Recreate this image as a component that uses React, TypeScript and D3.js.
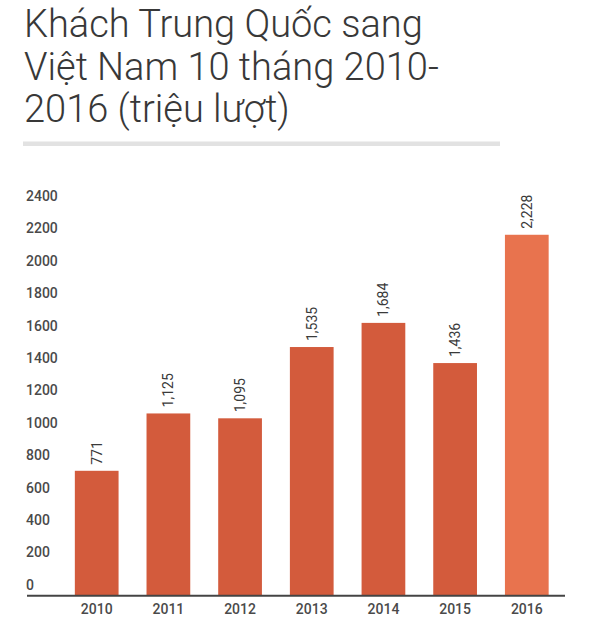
import React, { useEffect, useRef } from 'react';
import * as d3 from 'd3';

const titleLines = ['Khách Trung Quốc sang', 'Việt Nam 10 tháng 2010-', '2016 (triệu lượt)'];
const years = ['2010', '2011', '2012', '2013', '2014', '2015', '2016'];
const visitors = [771, 1125, 1095, 1535, 1684, 1436, 2228];
const yTicks = [0, 200, 400, 600, 800, 1000, 1200, 1400, 1600, 1800, 2000, 2200, 2400];

const App: React.FC = () => {
  const svgRef = useRef<SVGSVGElement>(null);

  useEffect(() => {
    if (!svgRef.current) return;
    const svg = d3.select(svgRef.current);
    svg.selectAll('*').remove();

    const width = 591;
    const height = 619;
    svg.attr('width', width).attr('height', height);

    svg.append('rect').attr('width', width).attr('height', height).attr('fill', '#fff');

    // Title
    svg.append('g')
      .selectAll('text')
      .data(titleLines)
      .join('text')
      .attr('x', 24)
      .attr('y', (_, i) => 37 + i * 42.5)
      .style('font-family', 'Roboto, sans-serif')
      .style('font-weight', 300)
      .style('font-size', '38px')
      .style('fill', '#383838')
      .text(d => d);

    // divider under the title
    svg.append('rect')
      .attr('x', 23)
      .attr('y', 141.5)
      .attr('width', 477)
      .attr('height', 4.5)
      .attr('fill', '#e2e2e2');

    const x = d3.scaleBand<string>()
      .domain(years)
      .range([39, 584.5])
      .paddingInner(0.39)
      .paddingOuter(0.5);

    const y = d3.scaleLinear()
      .domain([0, 2400])
      .range([595.7, 206.9]);

    // y labels (sit above their values, no gridlines)
    svg.append('g')
      .selectAll('text')
      .data(yTicks)
      .join('text')
      .attr('x', 26)
      .attr('y', d => y(d) - 6)
      .style('font-family', 'Roboto, sans-serif')
      .style('font-size', '14px')
      .style('font-weight', 500)
      .style('fill', '#4a4a4a')
      .text(d => d);

    // bars
    svg.append('g')
      .selectAll('rect')
      .data(visitors)
      .join('rect')
      .attr('x', (_, i) => x(years[i])!)
      .attr('y', d => y(d))
      .attr('width', x.bandwidth())
      .attr('height', d => y(0) - y(d))
      .attr('fill', (_, i) => (i === years.length - 1 ? '#e8734e' : '#d35b3c'));

    // value labels, rotated
    svg.append('g')
      .selectAll('text')
      .data(visitors)
      .join('text')
      .attr('transform', (d, i) => `translate(${x(years[i])! + x.bandwidth() / 2 + 5},${y(d) - 6}) rotate(-90)`)
      .attr('text-anchor', 'start')
      .style('font-family', 'Roboto, sans-serif')
      .style('font-size', '14px')
      .style('fill', '#3a3a3a')
      .text(d => d3.format(',')(d));

    // baseline
    svg.append('line')
      .attr('x1', 27)
      .attr('x2', 565)
      .attr('y1', y(0))
      .attr('y2', y(0))
      .attr('stroke', '#444')
      .attr('stroke-width', 2);

    // year labels
    svg.append('g')
      .selectAll('text')
      .data(years)
      .join('text')
      .attr('x', d => x(d)! + x.bandwidth() / 2)
      .attr('y', 613.5)
      .attr('text-anchor', 'middle')
      .style('font-family', 'Roboto, sans-serif')
      .style('font-size', '14px')
      .style('font-weight', 500)
      .style('fill', '#4a4a4a')
      .text(d => d);
  }, []);

  return (
    <svg ref={svgRef} style={{ position: 'absolute', left: 0, top: 0, display: 'block' }}></svg>
  );
};

export default App;
